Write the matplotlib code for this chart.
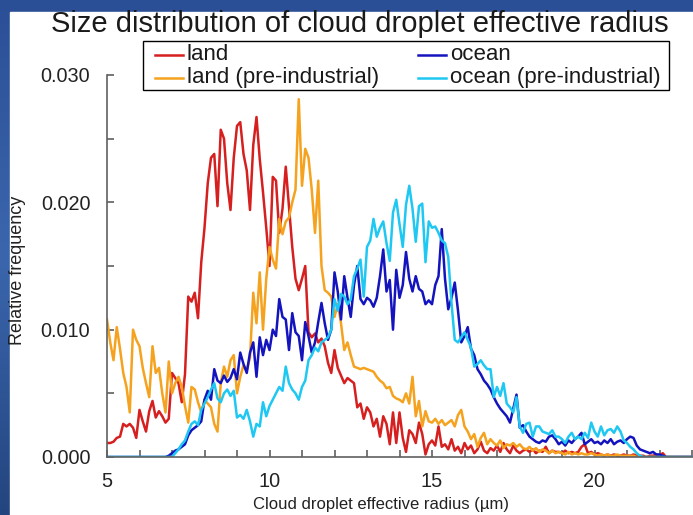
import numpy as np
import matplotlib
matplotlib.use("Agg")
import matplotlib.pyplot as plt
from matplotlib.ticker import MultipleLocator, FormatStrFormatter
from matplotlib.patches import Rectangle
from matplotlib.lines import Line2D

plt.rcParams['font.family'] = ['Liberation Sans', 'DejaVu Sans']

# Bin centres of the effective-radius histogram (µm)
radius = np.round(np.arange(5.0, 23.01, 0.1), 1)

land = [0.0011, 0.0011, 0.0012, 0.0015, 0.0016, 0.0026, 0.0024, 0.0026, 0.0023, 0.0015,
        0.0037, 0.0028, 0.0020, 0.0036, 0.0044, 0.0031, 0.0036, 0.0032, 0.0027, 0.0030,
        0.0066, 0.0062, 0.0058, 0.0043, 0.0065, 0.0126, 0.0122, 0.0129, 0.0109, 0.0153,
        0.0180, 0.0215, 0.0235, 0.0238, 0.0197, 0.0257, 0.0250, 0.0215, 0.0194, 0.0235,
        0.0260, 0.0263, 0.0238, 0.0225, 0.0194, 0.0245, 0.0267, 0.0234, 0.0208, 0.0180,
        0.0150, 0.0220, 0.0217, 0.0176, 0.0195, 0.0228, 0.0197, 0.0165, 0.0140, 0.0131,
        0.0140, 0.0150, 0.0098, 0.0094, 0.0097, 0.0090, 0.0093, 0.0087, 0.0074, 0.0066,
        0.0084, 0.0070, 0.0064, 0.0058, 0.0062, 0.0060, 0.0058, 0.0039, 0.0042, 0.0030,
        0.0039, 0.0035, 0.0024, 0.0030, 0.0016, 0.0032, 0.0026, 0.0010, 0.0035, 0.0011,
        0.0035, 0.0015, 0.0004, 0.0021, 0.0018, 0.0011, 0.0027, 0.0018, 0.0002, 0.0010,
        0.0013, 0.0009, 0.0024, 0.0008, 0.0010, 0.0006, 0.0014, 0.0005, 0.0008, 0.0003,
        0.0011, 0.0006, 0.0009, 0.0003, 0.0006, 0.0012, 0.0005, 0.0003, 0.0007, 0.0005,
        0.0009, 0.0004, 0.0011, 0.0006, 0.0003, 0.0009, 0.0005, 0.0003, 0.0005, 0.0006,
        0.0004, 0.0006, 0.0003, 0.0005, 0.0004, 0.0008, 0.0003, 0.0005, 0.0004, 0.0004,
        0.0003, 0.0005, 0.0003, 0.0004, 0.0003, 0.0004, 0.0008, 0.0010, 0.0003, 0.0004,
        0.0002, 0.0003, 0.0002, 0.0001, 0.0002, 0.0001, 0.0002, 0.0001, 0.0001, 0.0002,
        0.0001, 0.0001, 0.0002, 0.0001, 0.0001, 0.0001, 0.0000, 0.0001, 0.0001, 0.0002,
        0.0001, 0.0003, 0.0, 0.0, 0.0, 0.0, 0.0, 0.0, 0.0, 0.0, 0.0]

land_pi = [0.0108, 0.0090, 0.0076, 0.0102, 0.0085, 0.0066, 0.0055, 0.0035, 0.0100, 0.0092,
           0.0087, 0.0070, 0.0058, 0.0047, 0.0087, 0.0066, 0.0070, 0.0050, 0.0035, 0.0075,
           0.0050, 0.0058, 0.0063, 0.0055, 0.0040, 0.0027, 0.0055, 0.0053, 0.0043, 0.0035,
           0.0045, 0.0042, 0.0039, 0.0026, 0.0020, 0.0058, 0.0071, 0.0063, 0.0076, 0.0080,
           0.0050, 0.0063, 0.0072, 0.0068, 0.0078, 0.0129, 0.0105, 0.0145, 0.0100, 0.0140,
           0.0165, 0.0155, 0.0148, 0.0187, 0.0175, 0.0185, 0.0188, 0.0200, 0.0210, 0.0281,
           0.0213, 0.0242, 0.0235, 0.0210, 0.0176, 0.0217, 0.0150, 0.0131, 0.0129, 0.0126,
           0.0110, 0.0120, 0.0105, 0.0084, 0.0090, 0.0080, 0.0071, 0.0070, 0.0069, 0.0070,
           0.0069, 0.0068, 0.0067, 0.0063, 0.0060, 0.0058, 0.0054, 0.0055, 0.0048, 0.0046,
           0.0045, 0.0043, 0.0050, 0.0042, 0.0063, 0.0032, 0.0044, 0.0024, 0.0036, 0.0028,
           0.0027, 0.0030, 0.0026, 0.0029, 0.0025, 0.0027, 0.0029, 0.0024, 0.0033, 0.0037,
           0.0024, 0.0020, 0.0014, 0.0018, 0.0008, 0.0015, 0.0019, 0.0010, 0.0014, 0.0011,
           0.0009, 0.0013, 0.0007, 0.0010, 0.0009, 0.0011, 0.0008, 0.0010, 0.0007, 0.0006,
           0.0008, 0.0005, 0.0007, 0.0004, 0.0006, 0.0005, 0.0003, 0.0005, 0.0003, 0.0004,
           0.0003, 0.0002, 0.0004, 0.0002, 0.0003, 0.0002, 0.0003, 0.0002, 0.0002, 0.0003,
           0.0002, 0.0001, 0.0002, 0.0001, 0.0002, 0.0001, 0.0001, 0.0002, 0.0001, 0.0001,
           0.0001, 0.0001, 0.0001, 0.0, 0.0, 0.0, 0.0, 0.0, 0.0, 0.0,
           0.0, 0.0, 0.0, 0.0, 0.0, 0.0, 0.0, 0.0, 0.0, 0.0, 0.0]

ocean = [0.0, 0.0, 0.0, 0.0, 0.0, 0.0, 0.0, 0.0, 0.0, 0.0,
         0.0, 0.0, 0.0, 0.0, 0.0, 0.0, 0.0, 0.0, 0.0, 0.0001,
         0.0003, 0.0005, 0.0006, 0.0008, 0.0010, 0.0017, 0.0021, 0.0023, 0.0025, 0.0028,
         0.0045, 0.0052, 0.0045, 0.0069, 0.0060, 0.0058, 0.0064, 0.0059, 0.0062, 0.0069,
         0.0061, 0.0082, 0.0073, 0.0066, 0.0082, 0.0090, 0.0063, 0.0094, 0.0080, 0.0092,
         0.0084, 0.0100, 0.0095, 0.0124, 0.0110, 0.0108, 0.0084, 0.0113, 0.0098, 0.0095,
         0.0076, 0.0106, 0.0095, 0.0082, 0.0090, 0.0106, 0.0121, 0.0105, 0.0092, 0.0100,
         0.0145, 0.0130, 0.0108, 0.0142, 0.0125, 0.0110, 0.0135, 0.0150, 0.0124, 0.0120,
         0.0125, 0.0123, 0.0118, 0.0125, 0.0142, 0.0163, 0.0130, 0.0139, 0.0100, 0.0147,
         0.0125, 0.0135, 0.0161, 0.0140, 0.0130, 0.0142, 0.0132, 0.0130, 0.0120, 0.0123,
         0.0120, 0.0135, 0.0142, 0.0179, 0.0140, 0.0116, 0.0125, 0.0137, 0.0115, 0.0090,
         0.0095, 0.0102, 0.0085, 0.0080, 0.0069, 0.0065, 0.0060, 0.0057, 0.0053, 0.0047,
         0.0042, 0.0038, 0.0035, 0.0032, 0.0027, 0.0038, 0.0049, 0.0023, 0.0025, 0.0020,
         0.0016, 0.0014, 0.0012, 0.0011, 0.0013, 0.0012, 0.0016, 0.0017, 0.0014, 0.0010,
         0.0012, 0.0009, 0.0013, 0.0011, 0.0014, 0.0016, 0.0019, 0.0010, 0.0012, 0.0014,
         0.0011, 0.0012, 0.0010, 0.0013, 0.0011, 0.0014, 0.0010, 0.0012, 0.0013, 0.0011,
         0.0014, 0.0016, 0.0015, 0.0009, 0.0006, 0.0005, 0.0004, 0.0003, 0.0004, 0.0002,
         0.0002, 0.0001, 0.0, 0.0, 0.0, 0.0, 0.0, 0.0, 0.0, 0.0, 0.0]

ocean_pi = [0.0, 0.0, 0.0, 0.0, 0.0, 0.0, 0.0, 0.0, 0.0, 0.0,
            0.0, 0.0, 0.0, 0.0, 0.0, 0.0, 0.0, 0.0, 0.0, 0.0,
            0.0, 0.0003, 0.0006, 0.0010, 0.0013, 0.0020, 0.0026, 0.0028, 0.0025, 0.0037,
            0.0042, 0.0047, 0.0053, 0.0058, 0.0046, 0.0043, 0.0050, 0.0053, 0.0048, 0.0052,
            0.0031, 0.0033, 0.0030, 0.0037, 0.0028, 0.0016, 0.0026, 0.0024, 0.0043, 0.0032,
            0.0040, 0.0045, 0.0050, 0.0055, 0.0052, 0.0071, 0.0058, 0.0053, 0.0050, 0.0045,
            0.0055, 0.0060, 0.0076, 0.0080, 0.0086, 0.0083, 0.0090, 0.0092, 0.0094, 0.0100,
            0.0124, 0.0115, 0.0128, 0.0126, 0.0120, 0.0124, 0.0142, 0.0148, 0.0155, 0.0126,
            0.0165, 0.0170, 0.0187, 0.0173, 0.0180, 0.0185, 0.0168, 0.0154, 0.0192, 0.0202,
            0.0183, 0.0165, 0.0198, 0.0213, 0.0195, 0.0169, 0.0197, 0.0199, 0.0153, 0.0185,
            0.0180, 0.0181, 0.0176, 0.0170, 0.0168, 0.0157, 0.0121, 0.0092, 0.0090, 0.0094,
            0.0098, 0.0092, 0.0086, 0.0071, 0.0073, 0.0076, 0.0072, 0.0069, 0.0069, 0.0047,
            0.0055, 0.0048, 0.0058, 0.0042, 0.0039, 0.0035, 0.0047, 0.0024, 0.0019, 0.0026,
            0.0027, 0.0016, 0.0024, 0.0024, 0.0020, 0.0019, 0.0018, 0.0021, 0.0016, 0.0016,
            0.0014, 0.0011, 0.0016, 0.0019, 0.0014, 0.0016, 0.0014, 0.0019, 0.0015, 0.0027,
            0.0020, 0.0016, 0.0024, 0.0017, 0.0021, 0.0022, 0.0019, 0.0024, 0.0020, 0.0013,
            0.0011, 0.0008, 0.0006, 0.0003, 0.0001, 0.0, 0.0, 0.0, 0.0, 0.0,
            0.0, 0.0, 0.0, 0.0, 0.0, 0.0, 0.0, 0.0, 0.0, 0.0, 0.0]

series_labels = ["land", "land (pre-industrial)", "ocean", "ocean (pre-industrial)"]
series_colors = ["#d61f1f", "#f5a21f", "#1414bf", "#1ec8f2"]

W, H = 693, 515
fig = plt.figure(figsize=(W / 100, H / 100), dpi=100)


def fx(px):
    return px / W


def fy(py):
    return 1 - py / H


# Blue slide frame behind the white chart panel
bg = fig.add_axes([0, 0, 1, 1], zorder=-10)
shade = np.linspace(0.0, 1.0, 256).reshape(-1, 1)
bg.imshow(shade, aspect="auto", extent=[0, 1, 0, 1],
          cmap=matplotlib.colors.LinearSegmentedColormap.from_list(
              "frame", ["#2b4f96", "#3b66ad", "#23457f"]))
bg.add_patch(Rectangle((fx(10), 0), 1 - fx(10), fy(12), color="white"))
bg.set_xlim(0, 1)
bg.set_ylim(0, 1)
bg.axis("off")

ax = fig.add_axes([fx(107), fy(457), 1 - fx(107), (457 - 75) / H])
ax.set_facecolor("none")

lines = []
for vals, lab, col in zip([land, land_pi, ocean, ocean_pi], series_labels, series_colors):
    ln, = ax.plot(radius, vals, color=col, lw=1.8, label=lab)
    lines.append(ln)

ax.set_xlim(5, 5 + (W - 107) / 32.5)
ax.set_ylim(0, 0.030)
ax.xaxis.set_major_locator(MultipleLocator(5))
ax.xaxis.set_minor_locator(MultipleLocator(1))
ax.yaxis.set_major_locator(MultipleLocator(0.010))
ax.yaxis.set_minor_locator(MultipleLocator(0.005))
ax.yaxis.set_major_formatter(FormatStrFormatter("%.3f"))

for s in ["top", "right"]:
    ax.spines[s].set_visible(False)
for s in ["left", "bottom"]:
    ax.spines[s].set_color("#606060")
    ax.spines[s].set_linewidth(1.2)

ax.tick_params(which="both", direction="in", color="#606060", length=5, width=1.2)
ax.tick_params(axis="y", which="major", pad=12, labelsize=14.3, labelcolor="#222222")
ax.tick_params(axis="x", which="major", pad=11, labelsize=14.3, labelcolor="#222222")

fig.text(fx(381), fy(505), "Cloud droplet effective radius (µm)",
         ha="center", va="center", fontsize=12, color="#222222")
fig.text(fx(18), fy(270), "Relative frequency", rotation=90,
         ha="center", va="center", fontsize=13, color="#222222")
fig.text(fx(360), fy(24), "Size distribution of cloud droplet effective radius",
         ha="center", va="center", fontsize=21, color="#1a1a1a")

# Two-column key in a plain black box
key = fig.add_axes([0, 0, 1, 1], zorder=5)
key.set_xlim(0, W)
key.set_ylim(H, 0)
key.axis("off")
key.add_patch(Rectangle((143, 41), 669 - 143, 90 - 41, facecolor="white",
                        edgecolor="black", lw=1.0))
key_rows = [55, 78]
key_cols = [155, 418]
for i, (lab, col) in enumerate(zip(series_labels, series_colors)):
    cx = key_cols[i // 2]
    cy = key_rows[i % 2]
    key.add_line(Line2D([cx, cx + 28], [cy, cy], color=col, lw=1.8))
    key.text(cx + 32, cy, lab, ha="left", va="center", fontsize=16, color="#1a1a1a")

fig.savefig("out.png", dpi=100)
